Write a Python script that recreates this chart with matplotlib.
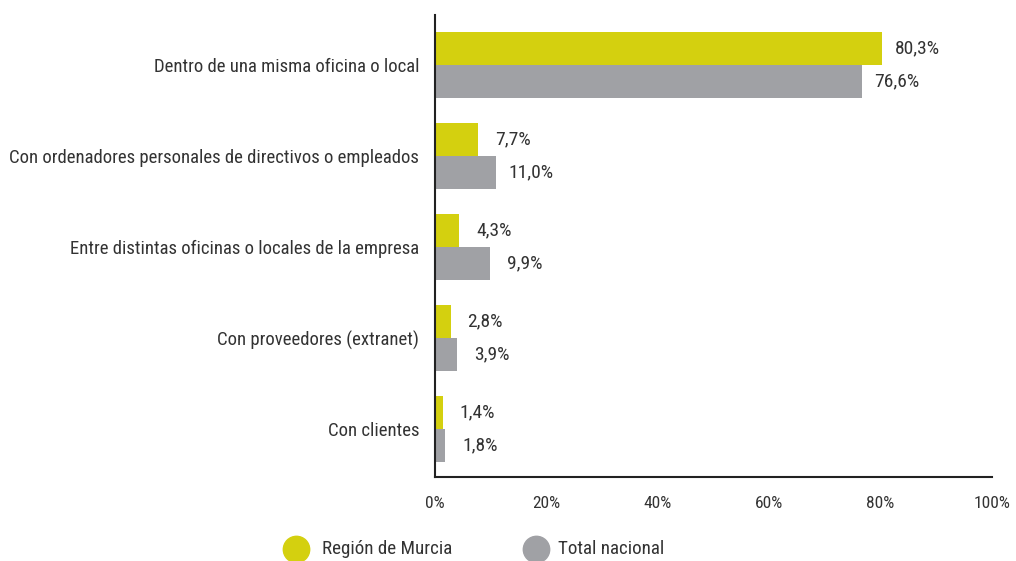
import matplotlib
matplotlib.use("Agg")
import matplotlib.pyplot as plt
from matplotlib.lines import Line2D
from matplotlib import font_manager

categories = [
    "Dentro de una misma oficina o local",
    "Con ordenadores personales de directivos o empleados",
    "Entre distintas oficinas o locales de la empresa",
    "Con proveedores (extranet)",
    "Con clientes",
]
murcia = [80.3, 7.7, 4.3, 2.8, 1.4]
nacional = [76.6, 11.0, 9.9, 3.9, 1.8]
series_names = ["Región de Murcia", "Total nacional"]
xticks = [0, 20, 40, 60, 80, 100]

names = {f.name for f in font_manager.fontManager.ttflist}
fam = "DejaVu Sans"
for cand in ["Roboto Condensed", "Liberation Sans Narrow", "Archivo Narrow",
             "Pragati Narrow", "Barlow Semi Condensed", "Asap Condensed"]:
    if cand in names:
        fam = cand
        break
plt.rcParams["font.family"] = [fam, "DejaVu Sans"]

c_y = "#D4D00F"
c_g = "#A0A1A5"
tc = "#333333"
W, H = 1016, 561

fig = plt.figure(figsize=(W/100, H/100), dpi=100)
ax = fig.add_axes([435/W, 1-477/H, (992-435)/W, (477-15)/H])

h = 0.365
ys = list(range(len(categories)))
ax.barh([y - h/2 for y in ys], murcia, height=h, color=c_y)
ax.barh([y + h/2 for y in ys], nacional, height=h, color=c_g)
for y, m, n in zip(ys, murcia, nacional):
    ax.annotate(f"{m:.1f}%".replace(".", ","), (m, y - h/2), xytext=(25, 0),
                textcoords="offset points", va="center", ha="center", fontsize=14, color=tc)
    ax.annotate(f"{n:.1f}%".replace(".", ","), (n, y + h/2), xytext=(25, 0),
                textcoords="offset points", va="center", ha="center", fontsize=14, color=tc)

ax.set_xlim(0, 100)
ax.set_ylim(4.53, -0.55)
ax.set_yticks(ys)
ax.set_yticklabels(categories, fontsize=13.5, color=tc)
ax.set_xticks(xticks)
ax.set_xticklabels([f"{t}%" for t in xticks], fontsize=12.5, color=tc)
ax.tick_params(axis="both", length=0)
ax.tick_params(axis="x", pad=13.5)
ax.tick_params(axis="y", pad=11.5)
for s in ["top", "right"]:
    ax.spines[s].set_visible(False)
for s in ["left", "bottom"]:
    ax.spines[s].set_color("#222222")
    ax.spines[s].set_linewidth(1.5)

# legend
leg_y = 1 - 549/H
for cx, tx, col, lab in [(296, 322, c_y, series_names[0]), (536, 558, c_g, series_names[1])]:
    fig.add_artist(Line2D([cx/W], [leg_y], marker="o", markersize=19, color=col,
                          linestyle="", transform=fig.transFigure))
    fig.text(tx/W, leg_y, lab, fontsize=13.7, color=tc, va="center", ha="left")

fig.savefig("out.png", dpi=100)
